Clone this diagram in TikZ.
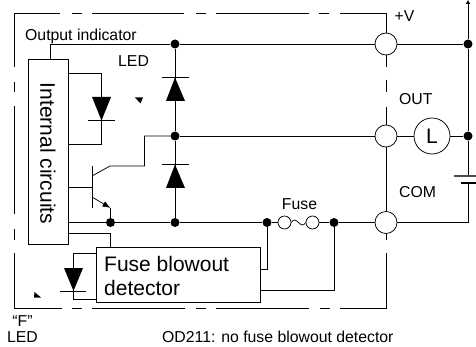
\documentclass[tikz,border=0pt]{standalone}
\usepackage{fontspec}
\setmainfont{Liberation Sans}
\usetikzlibrary{arrows.meta}
\tikzset{
  wire/.style={line width=0.75pt},
  dot/.style={circle,fill=black,inner sep=0pt,minimum size=9pt},
  terminal/.style={circle,draw,line width=0.75pt,fill=white,inner sep=0pt,minimum size=22pt},
  lamp/.style={circle,draw,line width=0.75pt,fill=white,inner sep=0pt,minimum size=36pt,font=\fontsize{21}{21}\selectfont},
  fusering/.style={circle,draw,line width=0.75pt,fill=white,inner sep=0pt,minimum size=13pt},
  lab/.style={inner sep=0pt,anchor=base west,font=\fontsize{15.8}{16}\selectfont},
  blockbox/.style={draw,line width=0.75pt,fill=white,inner sep=0pt},
  tip/.style={fill=black,draw=none}
}
\begin{document}
\begin{tikzpicture}[x=1pt,y=-1pt]
\useasboundingbox (0,0) rectangle (476,347);
% dashed frame
\draw[wire] (60,13) -- (14,13) -- (14,67.5);
\draw[wire] (72,13) -- (82,13);
\draw[wire] (92,13) -- (184,13);
\draw[wire] (196,13) -- (206,13);
\draw[wire] (216,13) -- (308.5,13);
\draw[wire] (319,13) -- (329,13);
\draw[wire] (340,13) -- (386,13) -- (386,33);
\draw[wire] (386,55) -- (386,67);
\draw[wire] (386,80) -- (386,92);
\draw[wire] (386,107) -- (386,125);
\draw[wire] (386,147) -- (386,211);
\draw[wire] (386,233) -- (386,240);
\draw[wire] (386,253) -- (386,308) -- (340,308);
\draw[wire] (330,308) -- (320,308);
\draw[wire] (308.5,308) -- (216,308);
\draw[wire] (206,308) -- (196,308);
\draw[wire] (185,308) -- (92,308);
\draw[wire] (82,308) -- (72,308);
\draw[wire] (62,308) -- (14,308) -- (14,253);
\draw[wire] (14,240) -- (14,229);
\draw[wire] (14,214.5) -- (14,106);
\draw[wire] (14,92) -- (14,82);
% boxes
\node[blockbox,minimum width=40pt,minimum height=185pt] (circuits) at (48,151.5) {};
\node[inner sep=0pt,rotate=-90,font=\fontsize{21}{21}\selectfont] (circuitstext) at (48,153.5) {Internal circuits};
\node[blockbox,minimum width=164pt,minimum height=55pt] (detector) at (178,274.5) {};
\node[inner sep=0pt,align=left,anchor=west,font=\fontsize{21}{24}\selectfont] (detectortext) at (104,276) {Fuse blowout\\detector};
% junctions and terminals
\node[dot] (top1) at (175,44) {};
\node[dot] (top2) at (468,44) {};
\node[dot] (mid1) at (175,136) {};
\node[dot] (mid2) at (468,136) {};
\node[dot] (low1) at (110.5,222.5) {};
\node[dot] (low2) at (175,222.5) {};
\node[dot] (fuseL) at (267,222.5) {};
\node[dot] (fuseR) at (334,222.5) {};
\node[terminal] (termV) at (386,44) {};
\node[terminal] (termOut) at (386,136) {};
\node[terminal] (termCom) at (386,222.5) {};
\node[lamp] (load) at (432,136) {L};
\node[fusering] (ringL) at (284.5,222.5) {};
\node[fusering] (ringR) at (312.5,222.5) {};
\coordinate (supply) at (468,0);
\coordinate (plate1) at (468,176);
\coordinate (plate2) at (468,183);
\coordinate (coll) at (144.5,166);
\coordinate (emit) at (110.5,208);
\coordinate (base) at (92,187);
% wires
\draw[wire] (top1) -- (termV);
\draw[wire] (termV) -- (top2);
\draw[wire] (circuits.north -| 50.5,0) |- (top1);
\draw[wire] (mid1) -- (termOut);
\draw[wire] (termOut) -- (load);
\draw[wire] (load) -- (mid2);
\draw[wire] (circuits.east |- low1) -- (low1);
\draw[wire] (low1) -- (low2);
\draw[wire] (low2) -- (fuseL);
\draw[wire] (fuseL) -- (ringL);
\draw[wire] (ringR) -- (fuseR);
\draw[wire] (fuseR) -- (termCom);
\draw[wire] (ringL.east) .. controls (296,214) and (301,231) .. (ringR.west);
\draw[wire] (termCom) -| (plate2);
\draw[wire,-{Latex[length=4pt,width=5pt]}] (top2) -- (supply);
\draw[wire] (top2) -- (mid2);
\draw[wire] (mid2) -- (plate1);
% diodes
\draw[wire] (top1) -- (mid1);
\draw[wire] (mid1) -- (low2);
\fill[tip] (175,77.5) -- (166,101) -- (185,101) -- cycle;
\draw[wire] (162,77.5) -- (189,77.5);
\fill[tip] (175,164.5) -- (166,188) -- (185,188) -- cycle;
\draw[wire] (162,164.5) -- (189,164.5);
% output indicator
\draw[wire] (circuits.east |- 0,73.5) -| (101.5,144) -- (circuits.east |- 0,144);
\fill[tip] (92,97) -- (111,97) -- (101.5,120.5) -- cycle;
\draw[wire] (88,120.5) -- (115,120.5);
% marks
\fill[tip] (135,97.5) -- (143,97.5) -- (140.5,103.5) -- cycle;
\fill[tip] (34.5,292) -- (41,297.5) -- (34,297.5) -- cycle;
% transistor
\draw[wire] (92,166) -- (92,208);
\draw[wire] (circuits.east |- base) -- (base);
\draw[wire] (92,176) -- (110,166) -- (coll) |- (mid1);
\draw[wire,-{Latex[length=8pt,width=6pt]}] (92,197) -- (emit);
\draw[wire] (emit) -- (low1);
% detector
\draw[wire] (circuits.east |- 0,233.5) -| (detector.north -| 110.5,0);
\draw[wire] (detector.west |- 0,253.5) -| (73,299.5) -- (detector.west |- 0,299.5);
\fill[tip] (64,268) -- (83,268) -- (73.5,291) -- cycle;
\draw[wire] (60,291) -- (86,291);
\draw[wire] (detector.east |- 0,269) -| (fuseL);
\draw[wire] (detector.east |- 0,290) -| (fuseR);
% battery
\draw[line width=1.2pt,black!70] (454,176) -- (482,176);
\draw[line width=1.8pt] (461,183) -- (476,183);
% labels
\node[lab] (outputlab) at (25,40.5) {Output indicator};
\node[lab] (ledlab) at (118,66.5) {LED};
\node[lab] (vlab) at (394.5,21.5) {+V};
\node[lab] (outlab) at (399,105) {OUT};
\node[lab] (comlab) at (399,198) {COM};
\node[lab,anchor=base] (fuselab) at (299.5,210) {Fuse};
\node[lab,anchor=base] (flab) at (22.5,326) {“F”};
\node[lab,anchor=base] (fledlab) at (22.5,342) {LED};
\node[lab] (notelab) at (162,342) {OD211: no fuse blowout detector};
\end{tikzpicture}
\end{document}
